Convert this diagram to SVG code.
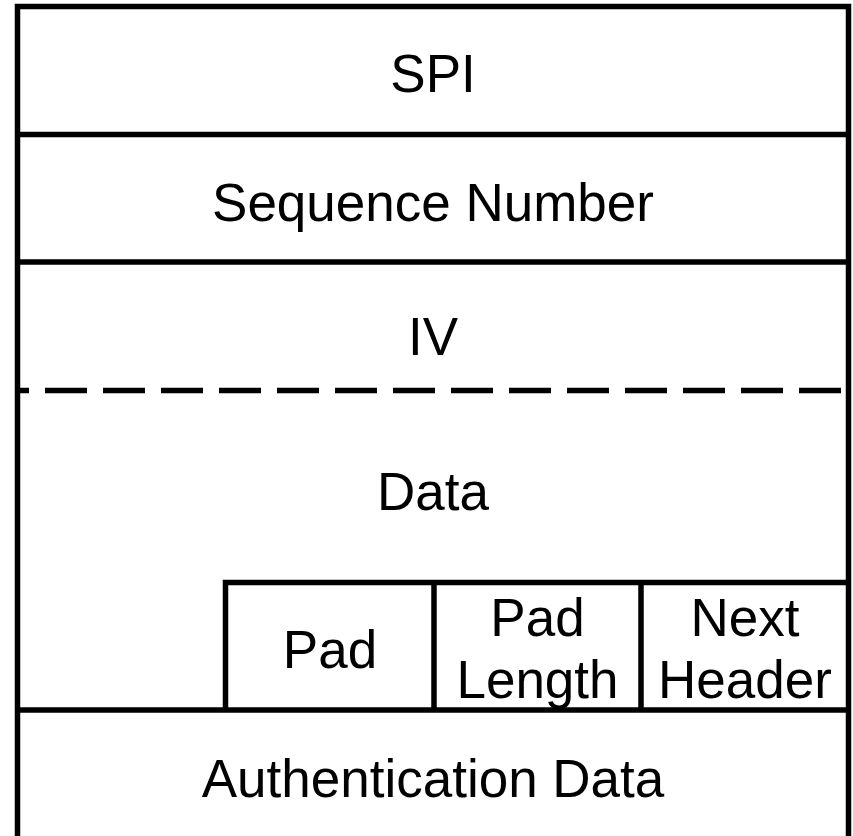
<svg xmlns="http://www.w3.org/2000/svg" width="853" height="836" viewBox="0 0 853 836">
<style>
.ln{stroke:#000;stroke-width:5.5;fill:none}
.dash{stroke:#000;stroke-width:5.5;stroke-dasharray:42 16;stroke-dashoffset:28}
text{font-family:"Liberation Sans",Arial,sans-serif;font-size:53px;fill:#000;text-anchor:middle}
</style>
<rect width="853" height="836" fill="#fff"/>
<g id="frame">
<path class="ln" d="M17.5,840 V6.5 H848.5 V840"/>
</g>
<g id="spi">
<text x="433" y="92">SPI</text>
</g>
<g id="seq">
<line class="ln" x1="17.5" y1="134.5" x2="848.5" y2="134.5"/>
<text x="433" y="221">Sequence Number</text>
</g>
<g id="iv">
<line class="ln" x1="17.5" y1="262" x2="848.5" y2="262"/>
<text x="433" y="355">IV</text>
</g>
<g id="data">
<line class="dash" x1="15" y1="390.5" x2="846" y2="390.5"/>
<text x="433" y="510">Data</text>
</g>
<g id="pad">
<path class="ln" d="M225.5,710 V582.5 H848.5"/>
<text x="330" y="668">Pad</text>
</g>
<g id="padlength">
<line class="ln" x1="434" y1="582.5" x2="434" y2="710"/>
<text x="537.5" y="636">Pad</text>
<text x="537.5" y="698">Length</text>
</g>
<g id="nextheader">
<line class="ln" x1="641" y1="582.5" x2="641" y2="710"/>
<text x="745" y="636">Next</text>
<text x="745" y="698">Header</text>
</g>
<g id="auth">
<line class="ln" x1="17.5" y1="710" x2="848.5" y2="710"/>
<text x="433" y="797">Authentication Data</text>
</g>
</svg>
